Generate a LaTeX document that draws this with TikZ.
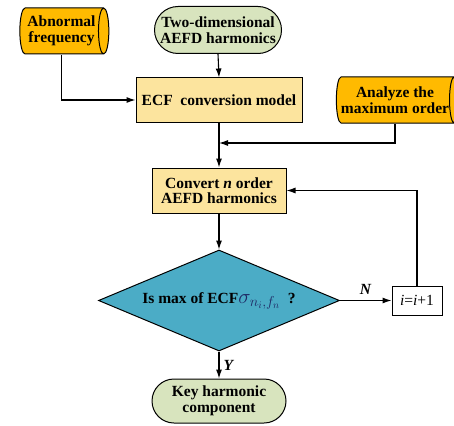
\documentclass[tikz,border=0pt]{standalone}
\usepackage{amsmath}
\usepackage{amssymb}
\usepackage{fontspec}
\setmainfont{Liberation Serif}
\usetikzlibrary{shapes.geometric,shapes.misc,arrows.meta}
\definecolor{tapeorange}{RGB}{255,186,0}
\definecolor{boxyellow}{RGB}{252,228,158}
\definecolor{termgreen}{RGB}{216,228,190}
\definecolor{decteal}{RGB}{75,172,198}
\definecolor{sigblue}{RGB}{30,40,100}

\begin{document}
\begin{tikzpicture}[x=1pt,y=-1pt,
  every node/.style={font=\bfseries\fontsize{15.5}{15.5}\selectfont,align=center,inner sep=0pt},
  tape/.style={draw,line width=1pt,cylinder,shape aspect=0.35,fill=tapeorange,minimum width=46pt,minimum height=89pt},
  term/.style={draw,line width=1pt,rounded rectangle,fill=termgreen},
  proc/.style={draw,line width=1pt,rectangle,fill=boxyellow},
  dec/.style={draw,line width=1pt,diamond,shape aspect=2.4,fill=decteal,minimum width=241pt,minimum height=101pt},
  line/.style={line width=1.1pt,-{Latex[length=9pt,width=6pt]}}]
  \useasboundingbox (0,0) rectangle (454,425);

  \node[tape] (abn) at (61.5,31) {Abnormal\\frequency};
  \node[term,minimum width=127pt,minimum height=47pt] (two) at (218,30) {Two-dimensional\\AEFD harmonics};
  \node[proc,minimum width=166pt,minimum height=44pt] (ecf) at (219,100) {ECF\ \ conversion model};
  \node[tape,minimum height=120pt] (anl) at (395,100) {Analyze the\\maximum order};
  \node[proc,minimum width=134pt,minimum height=45pt] (cnv) at (219,190.5) {Convert \textit{n} order\\AEFD harmonics};
  \node[dec] (dec) at (219,300.5)
    {Is max of ECF{\normalfont\fontsize{20}{20}\selectfont\color{sigblue}$\sigma_{n_i,f_n}$}\ \ ?};
  \node[draw,line width=1pt,fill=white,minimum width=50pt,minimum height=29pt] (inc) at (417,300.5)
    {\normalfont\textit{i}=\textit{i}+1};
  \node[term,minimum width=134pt,minimum height=44pt] (key) at (219,401) {Key harmonic\\component};

  \draw[line] (abn.south) |- (ecf.west);
  \draw[line] (two.south) -- (ecf.north);
  \draw[line] (ecf.south) -- (cnv.north);
  \coordinate (jn) at (ecf.south |- 0,143);
  \draw[line] (anl.south) |- (jn);
  \draw[line] (cnv.south) -- (dec.north);
  \draw[line] (dec.east) -- (inc.west) node[midway,above=5pt] {\textit{N}};
  \draw[line] (inc.north) |- (cnv.east);
  \draw[line] (dec.south) -- (key.north) node[midway,right=4pt] {\textit{Y}};
\end{tikzpicture}
\end{document}
